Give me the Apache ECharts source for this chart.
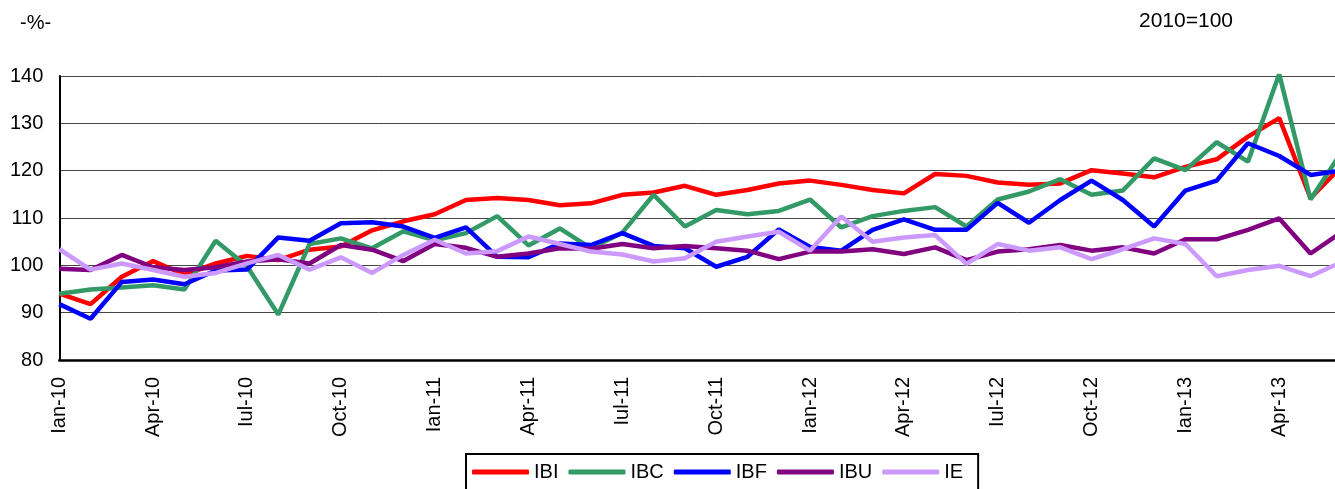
<!DOCTYPE html>
<html>
<head>
<meta charset="utf-8">
<script src="https://cdn.jsdelivr.net/npm/echarts@6/dist/echarts.min.js"></script>
<style>
  html, body { margin: 0; padding: 0; background: #fff; }
  #main { width: 1335px; height: 489px; }
</style>
</head>
<body>
<div id="main"></div>
<script>
// luni ian-10 .. iun-13
var luni = ['Ian', 'Feb', 'Mar', 'Apr', 'Mai', 'Iun', 'Iul', 'Aug', 'Sep', 'Oct', 'Noi', 'Dec'];
var months = [];
for (var an = 10; an <= 13; an++) {
  for (var m = 0; m < 12; m++) {
    if (an == 13 && m > 5) break;
    months.push(luni[m] + '-' + an);
  }
}

var ibi = [94.0, 91.8, 97.6, 100.9, 98.0, 100.4, 102.0, 101.1, 103.3, 104.0, 107.4, 109.3,
           110.8, 113.8, 114.2, 113.8, 112.7, 113.1, 114.9, 115.4, 116.8, 114.9, 115.9, 117.3,
           117.9, 117.0, 115.9, 115.2, 119.3, 118.9, 117.5, 117.0, 117.3, 120.1, 119.4, 118.6,
           120.8, 122.4, 127.2, 131.1, 114.2, 121.0];
var ibc = [94.0, 94.9, 95.3, 95.8, 94.9, 105.2, 99.8, 89.6, 104.5, 105.7, 103.6, 107.2,
           105.3, 106.8, 110.4, 104.2, 107.8, 103.6, 106.9, 114.9, 108.2, 111.7, 110.8, 111.5,
           113.9, 108.0, 110.4, 111.5, 112.3, 108.2, 113.9, 115.6, 118.2, 114.9, 115.8, 122.6,
           120.1, 126.0, 121.9, 140.4, 113.9, 124.0];
var ibf = [91.8, 88.7, 96.5, 97.0, 96.0, 98.9, 99.1, 105.9, 105.2, 108.9, 109.1, 108.2,
           105.8, 108.0, 101.8, 101.7, 104.6, 104.3, 106.8, 104.1, 103.6, 99.7, 101.8, 107.6,
           103.9, 103.1, 107.5, 109.7, 107.5, 107.5, 113.2, 109.0, 113.8, 117.9, 113.8, 108.2,
           115.8, 117.9, 125.8, 123.1, 119.1, 120.0];
var ibu = [99.3, 99.0, 102.2, 99.6, 99.0, 99.6, 100.8, 101.3, 100.4, 104.3, 103.3, 100.9,
           104.5, 103.7, 101.8, 102.5, 103.6, 103.5, 104.5, 103.6, 104.1, 103.6, 103.1, 101.3,
           102.9, 102.9, 103.4, 102.4, 103.8, 101.1, 102.9, 103.4, 104.3, 103.1, 103.8, 102.5,
           105.5, 105.5, 107.5, 109.9, 102.5, 107.0];
var ie  = [103.4, 99.1, 100.4, 99.0, 97.6, 98.4, 100.4, 102.2, 99.1, 101.7, 98.4, 102.2,
           105.4, 102.5, 103.0, 106.1, 104.5, 102.9, 102.3, 100.8, 101.5, 105.0, 106.1, 107.1,
           103.1, 110.3, 105.0, 105.9, 106.4, 100.3, 104.5, 103.1, 103.8, 101.3, 103.4, 105.7,
           104.5, 97.7, 99.0, 99.9, 97.7, 100.7];

var seriesNames = ['IBI', 'IBC', 'IBF', 'IBU', 'IE'];
var seriesData = [ibi, ibc, ibf, ibu, ie];
var colors = ['#ff0000', '#339966', '#0000ff', '#800080', '#cc99ff'];

var font = 'Liberation Sans, Arial, sans-serif';

var myChart = echarts.init(document.getElementById('main'));

var series = [];
for (var i = 0; i < seriesNames.length; i++) {
  series.push({
    name: seriesNames[i],
    type: 'line',
    data: seriesData[i],
    symbol: 'none',
    color: colors[i],
    lineStyle: { width: 4.5, color: colors[i] }
  });
}

var option = {
  animation: false,
  backgroundColor: '#fff',
  color: colors,
  // ultima luna (iun-13) cade putin in afara imaginii, ca in original
  grid: { left: 59.3, width: 1282.5, top: 76, bottom: 129, outerBoundsMode: 'none', containLabel: false },
  graphic: [
    { type: 'text', left: 20, top: 13, style: { text: '-%-', font: '20px ' + font, fill: '#000' } },
    { type: 'text', left: 1139, top: 11, style: { text: '2010=100', font: '21px ' + font, fill: '#000' } }
  ],
  legend: {
    left: 466,
    top: 454,
    padding: [8, 15, 8, 6],
    borderColor: '#000',
    borderWidth: 2,
    itemWidth: 57,
    itemHeight: 5,
    itemGap: 10,
    icon: 'roundRect',
    textStyle: { fontSize: 20, fontFamily: font, color: '#000' },
    data: seriesNames
  },
  xAxis: {
    type: 'category',
    data: months,
    boundaryGap: false,
    axisLine: { lineStyle: { color: '#000', width: 2.5 } },
    axisTick: { show: false },
    axisLabel: {
      interval: 2,
      rotate: 90,
      margin: 17,
      fontSize: 20,
      fontFamily: font,
      color: '#000'
    },
    splitLine: { show: false }
  },
  yAxis: {
    type: 'value',
    min: 80,
    max: 140,
    interval: 10,
    axisLine: { show: true, lineStyle: { color: '#000', width: 2 } },
    axisTick: { show: false },
    axisLabel: { margin: 16, fontSize: 20, fontFamily: font, color: '#000' },
    splitLine: { lineStyle: { color: '#444', width: 1 } }
  },
  series: series
};

myChart.setOption(option);
</script>
</body>
</html>
